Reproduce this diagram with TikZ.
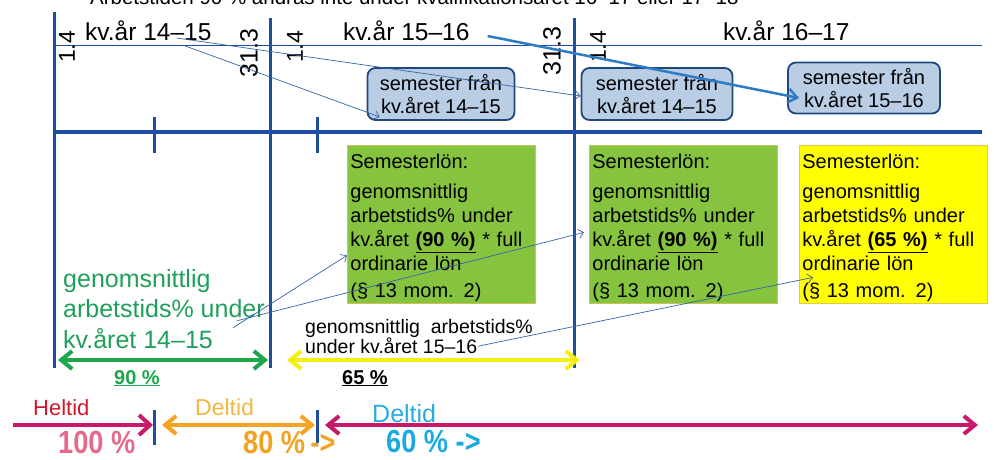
\documentclass[tikz,border=0pt]{standalone}
\usepackage{fontspec}
\setmainfont{Liberation Sans}
\newfontfamily\narrowfont[FakeStretch=0.85]{Liberation Sans}
\usepackage{tikz}
\usetikzlibrary{arrows.meta, positioning}
\usepackage{xcolor}

\definecolor{lineblue}{HTML}{1E4EA0}
\definecolor{thinblue}{HTML}{3464A8}
\definecolor{bigblue}{HTML}{2E7BC4}
\definecolor{boxfill}{HTML}{B9CDE5}
\definecolor{boxborder}{HTML}{1F497D}
\definecolor{lonfill}{HTML}{86C440}
\definecolor{lonborder}{HTML}{C9C45A}
\definecolor{gulfill}{HTML}{FFFF00}
\definecolor{gulborder}{HTML}{E2C84C}
\definecolor{texgreen}{HTML}{1FA05A}
\definecolor{arrgreen}{HTML}{1DA64A}
\definecolor{arryellow}{HTML}{F4EF12}
\definecolor{magentaarr}{HTML}{C8186A}
\definecolor{orangearr}{HTML}{F4A325}
\definecolor{heltidred}{HTML}{D0182A}
\definecolor{deltidorange}{HTML}{F0B840}
\definecolor{deltidblue}{HTML}{2AAAE0}
\definecolor{pinkpct}{HTML}{E56A8C}
\definecolor{orangepct}{HTML}{F4A020}
\definecolor{bluepct}{HTML}{1BA9E1}

\begin{document}
\begin{tikzpicture}[
x=1pt, y=-1pt,
>={Straight Barb[length=5pt,width=9pt]},
yearline/.style={draw=lineblue, line width=3pt},
thinarrow/.style={draw=thinblue, line width=0.7pt, ->},
semesterbox/.style={draw=boxborder, fill=boxfill, line width=1.8pt, rounded corners=8pt,
  minimum width=150pt, minimum height=52pt, align=center, inner sep=0pt,
  font=\fontsize{20}{23}\selectfont},
lonbox/.style={fill=lonfill, draw=lonborder, line width=0.8pt, anchor=north west,
  minimum height=158pt, text width=182pt, inner xsep=3pt, inner ysep=0pt, align=left,
  font=\fontsize{20}{24}\selectfont},
yearlabel/.style={anchor=base west, inner sep=0pt, font=\fontsize{24.5}{28}\selectfont},
datelabel/.style={rotate=90, inner sep=0pt},
widearrow/.style={line width=4pt, {Straight Barb[length=11pt,width=18pt]}-{Straight Barb[length=11pt,width=18pt]}},
pct/.style={anchor=base west, inner sep=0pt, font=\narrowfont\bfseries\fontsize{32}{36}\selectfont},
]
\useasboundingbox (0,0) rectangle (994,459);
\clip (0,0) rectangle (994,459);

%% heading (cut off at the top)
\node[anchor=base west, inner sep=0pt, font=\fontsize{20.5}{24}\selectfont] (rubrik) at (90,4)
  {Arbetstiden 90 \% ändras inte under kvalifikationsåret 16--17 eller 17--18};

%% time line
% lines
\draw[draw=lineblue, line width=1pt] (53,45) -- (982,45);
\draw[draw=lineblue, line width=4pt] (53,132) -- (982,132);
\draw[yearline] (54,12) -- (54,368);
\draw[yearline] (270,18) -- (270,368);
\draw[yearline] (574,18) -- (574,368);
\draw[yearline] (154,117) -- (154,153);
\draw[yearline] (317,117) -- (317,153);

% nodes
\node[yearlabel] (kv14) at (85,40) {kv.år 14--15};
\node[yearlabel] (kv15) at (343,40) {kv.år 15--16};
\node[yearlabel] (kv16) at (723,40) {kv.år 16--17};
\node[datelabel, font=\fontsize{23}{26}\selectfont] (start14) at (67,47) {1.4};
\node[datelabel, font=\fontsize{25}{28}\selectfont] (slut14) at (249,53) {31.3};
\node[datelabel, font=\fontsize{23}{26}\selectfont] (start15) at (295,47) {1.4};
\node[datelabel, font=\fontsize{25}{28}\selectfont] (slut15) at (552,51) {31.3};
\node[datelabel, font=\fontsize{23}{26}\selectfont] (start16) at (598,47) {1.4};

\node[semesterbox, minimum width=147pt] (sem1) at (441,94) {semester från\\kv.året 14--15};
\node[semesterbox, minimum width=151pt] (sem2) at (657,94) {semester från\\kv.året 14--15};
\node[semesterbox, minimum width=152pt, minimum height=51pt] (sem3) at (864,88) {semester från\\kv.året 15--16};

%% semesterlön
% nodes
\node[lonbox] (lonA) at (347,145) {\rule{0pt}{21pt}Semesterlön:\\[6pt]genomsnittlig\\arbetstids\% under\\kv.året \underline{\textbf{(90 \%)}} * full\\ordinarie lön\\[3pt](§ 13 mom. 2)};
\node[lonbox] (lonB) at (589,145) {\rule{0pt}{21pt}Semesterlön:\\[6pt]genomsnittlig\\arbetstids\% under\\kv.året \underline{\textbf{(90 \%)}} * full\\ordinarie lön\\[3pt](§ 13 mom. 2)};
\node[lonbox, fill=gulfill, draw=gulborder] (lonC) at (799,145) {\rule{0pt}{21pt}Semesterlön:\\[6pt]genomsnittlig\\arbetstids\% under\\kv.året \underline{\textbf{(65 \%)}} * full\\ordinarie lön\\[3pt](§ 13 mom. 2)};

\node[anchor=north west, inner sep=0pt, align=left, text=texgreen, font=\fontsize{25}{30.5}\selectfont] (gen14) at (63,269)
  {genomsnittlig\\arbetstids\% under\\kv.året 14--15};
\node[anchor=north west, inner sep=0pt, align=left, font=\fontsize{19.5}{20.5}\selectfont] (gen15) at (305,319)
  {genomsnittlig\ \ arbetstids\%\\under kv.året 15--16};

\node[anchor=base, inner sep=0pt, text=arrgreen, font=\bfseries\fontsize{20}{24}\selectfont] (pct90) at (137,384) {\underline{90 \%}};
\node[anchor=base, inner sep=0pt, font=\bfseries\fontsize{20}{24}\selectfont] (pct65) at (365,384) {\underline{65 \%}};

% arrows
\draw[thinarrow] ([xshift=-35pt,yshift=2pt]kv14.base east) -- ([yshift=-2pt]sem2.west);
\draw[thinarrow] ([xshift=-29pt,yshift=-5pt]kv14.base east) -- ([xshift=13pt,yshift=4pt]sem1.south west);
\draw[draw=bigblue, line width=2.5pt, -{Straight Barb[length=9pt,width=14pt]}] ([xshift=18pt,yshift=4pt]kv15.base east) -- ([xshift=12pt,yshift=-10pt]sem3.west);
\draw[thinarrow] ([xshift=170pt,yshift=21pt]gen14.south west) -- ([yshift=-31pt]lonA.west);
\draw[thinarrow] ([xshift=174pt,yshift=28pt]gen14.south west) -- ([xshift=-5pt,yshift=-8pt]lonB.west);
\draw[thinarrow] ([xshift=173pt,yshift=8pt]gen15.south west) -- ([xshift=14pt,yshift=-53pt]lonC.west);

\coordinate (g0) at (58,360);
\coordinate (g1) at (268,360);
\coordinate (y0) at (287,360);
\coordinate (y1) at (580,360);
\draw[widearrow, draw=arrgreen] (g0) -- (g1);
\draw[widearrow, draw=arryellow] (y0) -- (y1);

%% arbetstid
% nodes
\coordinate (h0) at (13,425);
\coordinate (h1) at (153,425);
\coordinate (d0) at (162,425);
\coordinate (d1) at (315,425);
\coordinate (e0) at (325,425);
\coordinate (e1) at (978,425);
\draw[yearline] (154,410) -- (154,445);
\draw[yearline] (317,410) -- (317,443);
\node[anchor=base west, inner sep=0pt, text=heltidred, font=\fontsize{22}{26}\selectfont] (heltid) at (33,415) {Heltid};
\node[anchor=base west, inner sep=0pt, text=deltidorange, font=\fontsize{23}{26}\selectfont] (deltid1) at (195,415) {Deltid};
\node[anchor=base west, inner sep=0pt, text=deltidblue, font=\fontsize{25}{28}\selectfont] (deltid2) at (372,422) {Deltid};
\node[pct, text=pinkpct] (pct100) at (58,453) {100 \%};
\node[pct, text=orangepct] (pct80) at (243,453) {80 \%\,->};
\node[pct, text=bluepct] (pct60) at (386,452) {60 \% ->};

% arrows
\draw[line width=4pt, draw=magentaarr, -{Straight Barb[length=11pt,width=20pt]}] (h0) -- (h1);
\draw[widearrow, draw=orangearr] (d0) -- (d1);
\draw[widearrow, draw=magentaarr] (e0) -- (e1);
\end{tikzpicture}
\end{document}
